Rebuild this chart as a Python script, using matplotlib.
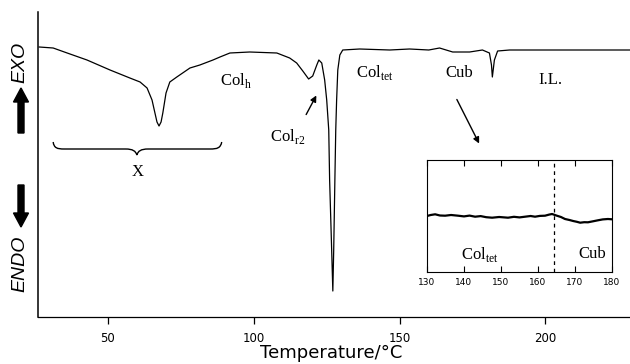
import matplotlib.pyplot as plt
import matplotlib.patches as mpatches
from matplotlib.path import Path

# DSC heating trace (temperature in C, heat flow in arbitrary units)
temp = [26.4, 31.2, 36.0, 42.8, 50.7, 57.5, 61.0, 63.4, 65.1, 66.1, 66.8, 67.5, 68.2, 68.8,
        69.9, 71.2, 73.6, 78.1, 81.5, 86.0, 88.4, 91.8, 98.6, 107.9, 112.3, 114.7, 116.8,
        118.8, 120.2, 121.6, 122.3, 123.3, 124.3, 125.0, 125.7, 126.0, 126.7, 127.1, 127.4,
        127.8, 128.1, 128.4, 128.8, 129.5, 130.5, 136.3, 146.6, 153.4, 160.0, 163.7, 168.2,
        174.0, 178.4, 180.8, 181.5, 181.8, 182.5, 183.6, 187.7, 204.8, 228.8]
heat = [270, 269, 264, 257, 247, 239, 235, 229, 217, 204, 195, 191, 195, 204,
        224, 235, 240, 249, 252, 257, 260, 264, 265, 264, 259, 254, 246,
        238, 241, 252, 257, 254, 237, 217, 187, 137, 67, 26, 67,
        137, 187, 217, 247, 262, 267, 268, 267, 268, 267, 269, 265,
        265, 267, 264, 252, 240, 257, 266, 267, 267, 267]

# enlarged 130-180 C region (inset)
inset_temp = [130.0, 131.0, 132.2, 133.5, 134.9, 136.5, 138.4, 140.0, 141.5, 143.0, 144.5,
              146.0, 147.6, 149.5, 151.9, 153.5, 155.0, 156.5, 158.0, 159.2, 160.5, 161.9,
              163.0, 163.8, 165.1, 166.2, 167.3, 168.5, 169.5, 170.5, 171.4, 172.5, 173.5,
              175.0, 176.2, 177.5, 178.9, 180.0]
inset_heat = [56.0, 57.0, 57.7, 56.5, 56.3, 57.0, 56.3, 55.6, 56.4, 55.3, 55.9,
              54.8, 54.3, 55.0, 54.3, 55.2, 54.6, 55.3, 56.0, 55.3, 56.1, 56.3,
              57.4, 58.0, 56.3, 55.0, 53.0, 52.0, 51.0, 50.2, 49.3, 49.8, 49.7,
              50.8, 51.7, 52.6, 53.0, 52.7]

xticks = [50, 100, 150, 200]
inset_ticks = [130, 140, 150, 160, 170, 180]
transition = 164.3

plt.rcParams['mathtext.fontset'] = 'custom'
plt.rcParams['mathtext.rm'] = 'Liberation Serif'
serif = 'Liberation Serif'

fig = plt.figure(figsize=(6.3, 3.64), dpi=100)

# main trace
ax = fig.add_axes([38 / 630, 47 / 364, 592 / 630, 305 / 364])
ax.plot(temp, heat, color='black', lw=0.9)
ax.set_xlim(26, 229)
ax.set_ylim(0, 305)
ax.spines[['top', 'right']].set_visible(False)
ax.spines['left'].set_linewidth(1.1)
ax.spines['bottom'].set_linewidth(0.9)
ax.set_yticks([])
ax.set_xticks(xticks)
ax.tick_params(axis='x', direction='out', length=5, width=0.9, labelsize=8.5, pad=6)

fig.text(331 / 630, (364 - 353) / 364, 'Temperature/°C', fontsize=13,
         ha='center', va='center')

# phase labels
ax.text(93.8, 237, r'Col$_\mathregular{h}$', family=serif, fontsize=12, ha='center', va='center')
ax.text(111.6, 180, r'Col$_\mathregular{r2}$', family=serif, fontsize=12, ha='center', va='center')
ax.text(141.4, 244, r'Col$_\mathregular{tet}$', family=serif, fontsize=12, ha='center', va='center')
ax.text(170.5, 244, 'Cub', family=serif, fontsize=12, ha='center', va='center')
ax.text(201.7, 237, 'I.L.', family=serif, fontsize=12, ha='center', va='center')
ax.text(60.3, 145, 'X', family=serif, fontsize=12, ha='center', va='center')

ax.annotate('', xy=(121.9, 224), xytext=(117.5, 200),
            arrowprops=dict(arrowstyle='-|>', color='black', lw=1, mutation_scale=9))
ax.annotate('', xy=(177.7, 171), xytext=(169.2, 220),
            arrowprops=dict(arrowstyle='-|>', color='black', lw=1, mutation_scale=9))

# curly brace under the broad X transition
verts = [(31.2, 175), (31.5, 169), (32.5, 168), (35, 168),
         (56, 168),
         (58.5, 168), (59.5, 166), (59.9, 162),
         (60.3, 166), (61.3, 168), (63.8, 168),
         (85, 168),
         (87.5, 168), (88.6, 169), (89.0, 175)]
codes = [Path.MOVETO, Path.CURVE4, Path.CURVE4, Path.CURVE4,
         Path.LINETO,
         Path.CURVE4, Path.CURVE4, Path.CURVE4,
         Path.CURVE4, Path.CURVE4, Path.CURVE4,
         Path.LINETO,
         Path.CURVE4, Path.CURVE4, Path.CURVE4]
ax.add_patch(mpatches.PathPatch(Path(verts, codes), fill=False, lw=1, color='black'))

# EXO / ENDO markers
fig.text(20 / 630, (364 - 62) / 364, 'EXO', family='Liberation Sans', style='italic',
         fontsize=14, rotation=90, ha='center', va='center')
fig.text(20 / 630, (364 - 264) / 364, 'ENDO', family='Liberation Sans', style='italic',
         fontsize=14, rotation=90, ha='center', va='center')
fig.patches.append(mpatches.FancyArrow(0.21, 2.31, 0, 0.45, width=0.06, head_width=0.15,
                                       head_length=0.14, length_includes_head=True,
                                       color='black', transform=fig.dpi_scale_trans))
fig.patches.append(mpatches.FancyArrow(0.21, 1.79, 0, -0.42, width=0.06, head_width=0.15,
                                       head_length=0.14, length_includes_head=True,
                                       color='black', transform=fig.dpi_scale_trans))

# inset
axins = fig.add_axes([427 / 630, 92 / 364, 185 / 630, 112 / 364])
axins.plot(inset_temp, inset_heat, color='black', lw=1.6)
axins.axvline(transition, color='black', lw=0.9, ls=(0, (3, 3)))
axins.set_xlim(130, 180)
axins.set_ylim(0, 112)
axins.set_yticks([])
axins.set_xticks(inset_ticks)
axins.tick_params(axis='x', direction='in', top=True, length=4, width=0.8,
                  labelsize=6.5, pad=4)
for s in axins.spines.values():
    s.set_linewidth(0.8)
axins.text(144.3, 18, r'Col$_\mathregular{tet}$', family=serif, fontsize=12,
           ha='center', va='center')
axins.text(174.6, 18, 'Cub', family=serif, fontsize=12, ha='center', va='center')

fig.savefig('out.png', dpi=100)
